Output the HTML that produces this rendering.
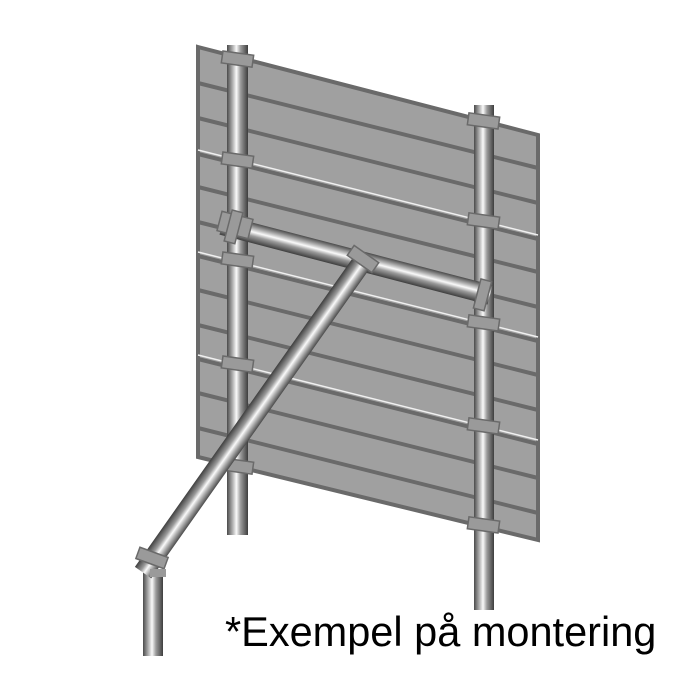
<!DOCTYPE html>
<html><head><meta charset="utf-8"><style>body{margin:0;background:#fff}svg{display:block}</style></head><body>
<svg width="700" height="700" viewBox="0 0 700 700" xmlns="http://www.w3.org/2000/svg">
<defs>
<linearGradient id="tv" x1="0" y1="0" x2="1" y2="0">
<stop offset="0" stop-color="#4a4a4a"/><stop offset="0.3" stop-color="#bdbdbd"/><stop offset="0.45" stop-color="#fafafa"/><stop offset="0.65" stop-color="#9a9a9a"/><stop offset="1" stop-color="#3e3e3e"/></linearGradient>
<linearGradient id="th" x1="0" y1="0" x2="0" y2="1">
<stop offset="0" stop-color="#4a4a4a"/><stop offset="0.3" stop-color="#bdbdbd"/><stop offset="0.45" stop-color="#fafafa"/><stop offset="0.65" stop-color="#9a9a9a"/><stop offset="1" stop-color="#3e3e3e"/></linearGradient>
</defs>
<polygon points="198,47 538,135 538,540 198,457" fill="#a0a0a0" stroke="#6a6a6a" stroke-width="4"/>
<g stroke="#6a6a6a" stroke-width="4">
<line x1="198" y1="83" x2="538" y2="168"/><line x1="198" y1="118" x2="538" y2="203"/>
<line x1="198" y1="187" x2="538" y2="272"/><line x1="198" y1="222" x2="538" y2="307"/>
<line x1="198" y1="290" x2="538" y2="375"/><line x1="198" y1="325" x2="538" y2="410"/>
<line x1="198" y1="393" x2="538" y2="478"/><line x1="198" y1="428" x2="538" y2="513"/>
<line x1="198" y1="154" x2="538" y2="239"/><line x1="198" y1="256" x2="538" y2="341"/><line x1="198" y1="359" x2="538" y2="444"/>
</g>
<g stroke="#f0f0f0" stroke-width="1.5">
<line x1="198" y1="150" x2="538" y2="235"/><line x1="198" y1="252" x2="538" y2="337"/><line x1="198" y1="355" x2="538" y2="440"/>
</g>
<rect x="227" y="45" width="21" height="490" fill="url(#tv)"/>
<rect x="474" y="105" width="20" height="505" fill="url(#tv)"/>
<g fill="#9a9a9a" stroke="#6a6a6a" stroke-width="1.5">
<rect x="222" y="53" width="31" height="12" transform="rotate(8 237 59)"/>
<rect x="222" y="154" width="31" height="12" transform="rotate(8 237 160)"/>
<rect x="222" y="254" width="31" height="12" transform="rotate(8 237 260)"/>
<rect x="222" y="358" width="31" height="12" transform="rotate(8 237 364)"/>
<rect x="222" y="460" width="31" height="12" transform="rotate(8 237 466)"/>
<rect x="468" y="115" width="31" height="12" transform="rotate(8 484 121)"/>
<rect x="468" y="215" width="31" height="12" transform="rotate(8 484 221)"/>
<rect x="468" y="317" width="31" height="12" transform="rotate(8 484 323)"/>
<rect x="468" y="420" width="31" height="12" transform="rotate(8 484 426)"/>
<rect x="468" y="519" width="31" height="12" transform="rotate(8 484 525)"/>
</g>
<rect x="143" y="572" width="20" height="84" fill="url(#tv)"/>
<g transform="translate(222,225) rotate(14.6)"><rect x="0" y="-10" width="277" height="20" fill="url(#th)"/></g>
<rect x="219" y="215" width="32" height="20" fill="#9a9a9a" stroke="#6a6a6a" stroke-width="1.5" transform="rotate(14.6 235 225)"/>
<rect x="228" y="211" width="11" height="32" fill="#9a9a9a" stroke="#6a6a6a" stroke-width="1.5" transform="rotate(14.6 234 227)"/>
<rect x="477" y="280" width="11" height="30" fill="#9a9a9a" stroke="#6a6a6a" stroke-width="1.5" transform="rotate(14.6 483 295)"/>
<g transform="translate(365,258) rotate(125.2)"><rect x="0" y="-10" width="385" height="20" fill="url(#th)"/></g>
<rect x="348" y="253" width="30" height="12" fill="#9a9a9a" stroke="#6a6a6a" stroke-width="1.5" transform="rotate(35 363 259)"/>
<rect x="137" y="552" width="30" height="12" fill="#9a9a9a" stroke="#6a6a6a" stroke-width="1.5" transform="rotate(20 152 558)"/>
<rect x="150" y="569" width="16" height="8" fill="#9a9a9a"/>
<text x="225" y="646" font-family="Liberation Sans, sans-serif" font-size="41.5" fill="#000">*Exempel på montering</text>
</svg>
</body></html>
